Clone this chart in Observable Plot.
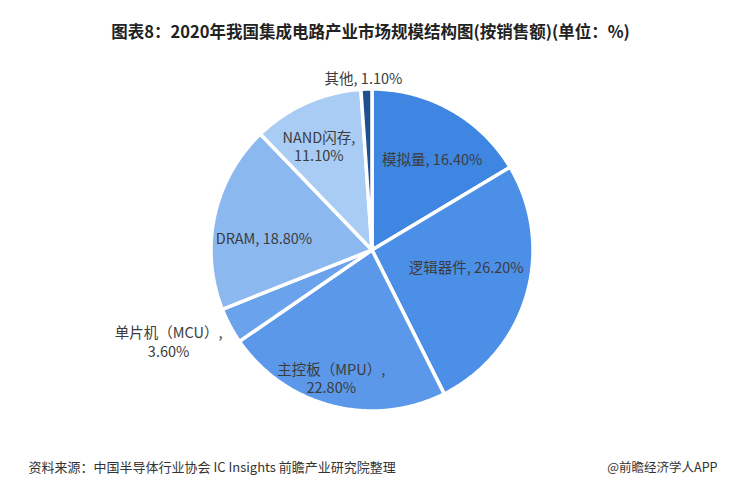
<!DOCTYPE html>
<html><head><meta charset="utf-8">
<script src="https://cdn.jsdelivr.net/npm/d3@7"></script>
<script src="https://cdn.jsdelivr.net/npm/@observablehq/plot@0.6"></script>
<style>body{margin:0;background:#fff}</style>
</head><body><div id="chart"></div>
<script>
const categories = ["模拟量", "逻辑器件", "主控板（MPU）", "单片机（MCU）", "DRAM", "NAND闪存", "其他"];
const values = [16.4, 26.2, 22.8, 3.6, 18.8, 11.1, 1.1];
const colors = ["#3e86e2", "#4c8fe6", "#5b98ea", "#6aa2ec", "#8cb8f0", "#a9ccf4", "#1d4f91"];
const labelBreak = [false, false, true, true, false, true, false];
const titleText = "图表8：2020年我国集成电路产业市场规模结构图(按销售额)(单位：%)";
const sourceText = "资料来源：中国半导体行业协会 IC Insights 前瞻产业研究院整理";
const creditText = "@前瞻经济学人APP";

// layout
const W = 732, H = 493, cx = 372, cy = 250, R = 161;
const labelRadius = [0.69, 0.6, 0.83, 1.4, 0.69, 0.73, 1.08];
const labelShift = [[5, 5], [1, -10], [-8, -2], [-5, -15], [0, 11], [-6, 3], [-3, 1]];

const arcs = d3.pie().sort(null).value(d => d)(values);
const slicePts = [];
arcs.forEach((a, i) => {
  const n = Math.max(2, Math.ceil((a.endAngle - a.startAngle) / 0.01));
  for (let k = 0; k <= n; k++) {
    const t = a.startAngle + (a.endAngle - a.startAngle) * k / n;
    slicePts.push({cat: categories[i], x: cx + R * Math.sin(t), y: cy - R * Math.cos(t), bx: cx, by: cy});
  }
});
const labels = arcs.map((a, i) => {
  const m = (a.startAngle + a.endAngle) / 2;
  const r = R * labelRadius[i];
  return {
    x: cx + r * Math.sin(m) + labelShift[i][0],
    y: cy - r * Math.cos(m) + labelShift[i][1],
    text: categories[i] + (labelBreak[i] ? ",\n" : ", ") + values[i].toFixed(2) + "%"
  };
});

const font = "'Noto Sans CJK SC', 'Noto Sans', sans-serif";
const chart = Plot.plot({
  width: W, height: H, margin: 0,
  style: {background: "#fff", fontFamily: font},
  x: {domain: [0, W], axis: null},
  y: {domain: [0, H], range: [0, H], axis: null},
  color: {domain: categories, range: colors},
  marks: [
    Plot.area(slicePts, {x1: "bx", y1: "by", x2: "x", y2: "y", z: "cat", fill: "cat",
      stroke: "white", strokeWidth: 3.5, strokeLinejoin: "round", curve: "linear"}),
    Plot.text(labels, {x: "x", y: "y", text: "text", fontSize: 14.5, fill: "#3c3c3c",
      lineHeight: 1.28, fontFamily: font}),
    Plot.text([titleText], {frameAnchor: "top", dx: 4, dy: 26, text: d => d, fontSize: 16.5,
      fontWeight: "bold", fill: "#222", fontFamily: font}),
    Plot.text([sourceText], {frameAnchor: "bottom-left", dx: 28, dy: -22, text: d => d,
      textAnchor: "start", fontSize: 13, fill: "#333", fontFamily: font}),
    Plot.text([creditText], {frameAnchor: "bottom-right", dx: -15, dy: -22, text: d => d,
      textAnchor: "end", fontSize: 12.5, fill: "#333", fontFamily: font})
  ]
});
document.getElementById("chart").appendChild(chart);
</script>
</body></html>
